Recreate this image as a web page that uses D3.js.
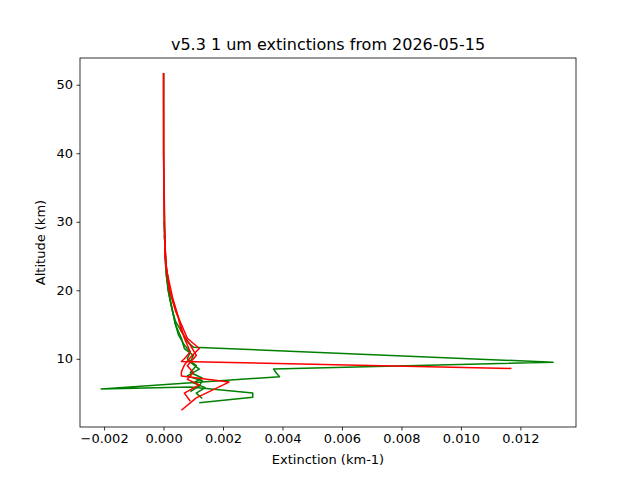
<!DOCTYPE html>
<html>
<head>
<meta charset="utf-8">
<script src="https://cdn.jsdelivr.net/npm/d3@7"></script>
<style>
  body { margin: 0; background: #fff; }
  text { font-family: "DejaVu Sans", sans-serif; }
</style>
</head>
<body>
<div id="chart"></div>
<script>
// profiles: altitude (km) and extinction (km-1)
const greenAlt1 = [51.7, 40, 32, 26, 22, 19, 17, 15.5, 14, 12.5, 11.7, 9.5, 8.5, 7.9, 7.4, 5.6, 5.9, 5.0, 4.4, 3.6];
const greenExt1 = [0, 0, 0.00003, 0.00005, 0.0001, 0.0002, 0.0003, 0.0004, 0.0006, 0.0008, 0.0010, 0.0131, 0.0037, 0.0038, 0.0039, -0.0021, 0.0009, 0.0030, 0.0030, 0.0012];
const greenAlt2 = [30, 24, 20, 17, 15, 13.5, 12, 11, 10, 9, 8, 7.2, 6.5, 5.8, 5, 4.2];
const greenExt2 = [0.00002, 0.00006, 0.00015, 0.0003, 0.0004, 0.0005, 0.0007, 0.0009, 0.0008, 0.0011, 0.0009, 0.0013, 0.0010, 0.0014, 0.0011, 0.0013];
const greenAlt3 = [28, 22, 18, 15, 13, 11.5, 10.5, 9.5, 8.5, 7.5, 6.8, 6, 5.2];
const greenExt3 = [0.00003, 0.0001, 0.00025, 0.0004, 0.0006, 0.0007, 0.0010, 0.0009, 0.0012, 0.0008, 0.0013, 0.0012, 0.0009];
const redAlt1 = [51.7, 35, 25, 20, 16, 13, 11, 10, 9.6, 8.6];
const redExt1 = [0, 0.00001, 0.00005, 0.0002, 0.0005, 0.0007, 0.0009, 0.0007, 0.0006, 0.0117];
const redAlt2 = [2.5, 4.3, 6.6, 7.5, 8.1, 9.1, 10.2, 11.5, 13, 15, 17, 20, 24, 30, 40, 51.7];
const redExt2 = [0.0006, 0.0011, 0.0022, 0.0006, 0.0006, 0.0007, 0.0009, 0.0012, 0.0008, 0.0006, 0.0004, 0.0002, 0.00007, 0.00002, 0, 0];
const redAlt3 = [3.8, 5, 6.2, 7, 8, 9, 10.5, 12, 14, 16, 19, 23, 28];
const redExt3 = [0.0009, 0.0007, 0.0012, 0.0008, 0.0010, 0.0008, 0.0011, 0.0009, 0.0006, 0.0005, 0.0003, 0.0001, 0.00003];
const xTicks = [-0.002, 0, 0.002, 0.004, 0.006, 0.008, 0.010, 0.012];
const yTicks = [10, 20, 30, 40, 50];

const series = [
  {alt: greenAlt2, ext: greenExt2, color: 'green'},
  {alt: greenAlt3, ext: greenExt3, color: 'green'},
  {alt: greenAlt1, ext: greenExt1, color: 'green'},
  {alt: redAlt3, ext: redExt3, color: 'red'},
  {alt: redAlt2, ext: redExt2, color: 'red'},
  {alt: redAlt1, ext: redExt1, color: 'red'}
];

const width = 640, height = 480;
const m = {left: 80, right: 64, top: 58, bottom: 53};

const svg = d3.select('#chart').append('svg')
  .attr('width', width).attr('height', height);

const x = d3.scaleLinear().domain([-0.00281, 0.01387]).range([m.left, width - m.right]);
const y = d3.scaleLinear().domain([0.05, 53.9]).range([height - m.bottom, m.top]);

const line = d3.line().x(d => x(d[1])).y(d => y(d[0]));

const plot = svg.append('g');
series.forEach(s => {
  plot.append('path')
    .datum(s.alt.map((a, i) => [a, s.ext[i]]))
    .attr('d', line)
    .attr('fill', 'none')
    .attr('stroke', s.color)
    .attr('stroke-width', 1.5)
    .attr('stroke-linejoin', 'round');
});

// frame
svg.append('rect')
  .attr('x', m.left).attr('y', m.top)
  .attr('width', width - m.left - m.right)
  .attr('height', height - m.top - m.bottom)
  .attr('fill', 'none').attr('stroke', '#000').attr('stroke-width', 0.8);

const xAxis = svg.append('g')
  .attr('transform', `translate(0,${height - m.bottom})`)
  .call(d3.axisBottom(x).tickValues(xTicks).tickFormat(d3.format('.3f')).tickSize(3.5).tickPadding(3.5));
const yAxis = svg.append('g')
  .attr('transform', `translate(${m.left},0)`)
  .call(d3.axisLeft(y).tickValues(yTicks).tickSize(3.5).tickPadding(3.5));
[xAxis, yAxis].forEach(a => {
  a.select('.domain').remove();
  a.selectAll('line').attr('stroke-width', 0.8);
  a.selectAll('text').style('font-size', '13px').attr('fill', '#000');
});

svg.append('text')
  .attr('x', (m.left + width - m.right) / 2).attr('y', m.top - 8)
  .attr('text-anchor', 'middle').style('font-size', '16px')
  .text('v5.3 1 um extinctions from 2026-05-15');
svg.append('text')
  .attr('x', (m.left + width - m.right) / 2).attr('y', height - 16)
  .attr('text-anchor', 'middle').style('font-size', '13px')
  .text('Extinction (km-1)');
svg.append('text')
  .attr('transform', `translate(45,${(m.top + height - m.bottom) / 2}) rotate(-90)`)
  .attr('text-anchor', 'middle').style('font-size', '13px')
  .text('Altitude (km)');
</script>
</body>
</html>
